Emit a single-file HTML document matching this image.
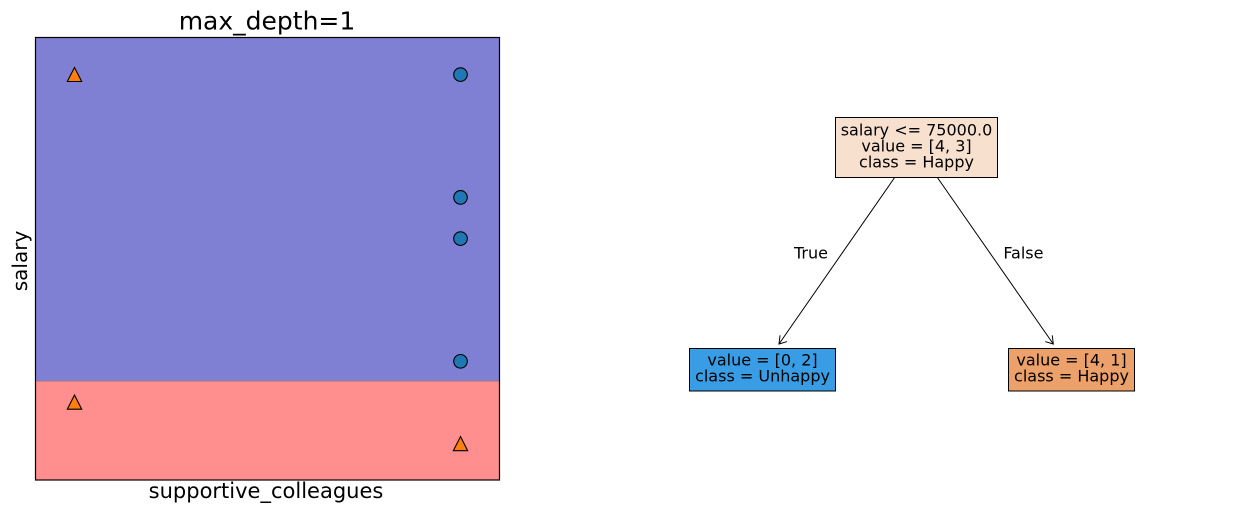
<!DOCTYPE html>
<html>
<head>
<meta charset="utf-8">
<style>
  html, body { margin: 0; padding: 0; background: #ffffff; }
  svg { display: block; }
  text { font-family: "DejaVu Sans", "Liberation Sans", sans-serif; fill: #000; }
</style>
</head>
<body>
<svg width="1234" height="516" viewBox="0 0 1234 516" xmlns="http://www.w3.org/2000/svg">
  <rect x="0" y="0" width="1234" height="516" fill="#ffffff"/>

  <!-- Left plot: decision regions -->
  <rect x="35.5" y="37.5" width="464" height="344" fill="#7f7fd4"/>
  <rect x="35.5" y="381.3" width="464" height="98.7" fill="#ff8f8f"/>
  <line x1="35.5" y1="381.3" x2="499.5" y2="381.3" stroke="#c87878" stroke-width="0.8"/>
  <rect x="35.5" y="37.5" width="464" height="442.5" fill="none" stroke="#000" stroke-width="1.2"/>

  <!-- Title and axis labels -->
  <text x="267" y="29.5" font-size="25" text-anchor="middle">max_depth=1</text>
  <text x="266" y="498" font-size="21" text-anchor="middle">supportive_colleagues</text>
  <text transform="translate(27,261) rotate(-90)" font-size="20" text-anchor="middle">salary</text>

  <!-- Markers: triangles -->
  <g fill="#ff7f0e" stroke="#000" stroke-width="1.1" stroke-linejoin="miter">
    <polygon points="74.5,67.5 67.3,81.5 81.7,81.5"/>
    <polygon points="74.5,395 67.3,409.2 81.7,409.2"/>
    <polygon points="460.5,436.6 453.3,450.7 467.7,450.7"/>
  </g>
  <!-- Markers: circles -->
  <g fill="#1f77b4" stroke="#000" stroke-width="1.1">
    <circle cx="460.5" cy="74.6" r="6.8"/>
    <circle cx="460.5" cy="197.4" r="6.8"/>
    <circle cx="460.5" cy="238.6" r="6.8"/>
    <circle cx="460.5" cy="361.3" r="6.8"/>
  </g>

  <!-- Tree: edges -->
  <g stroke="#000" stroke-width="1" fill="none" stroke-linecap="round">
    <line x1="894.3" y1="178" x2="779" y2="344"/>
    <polyline points="786.7,341.7 779,344 780,335.7"/>
    <line x1="937.7" y1="178" x2="1053.3" y2="344"/>
    <polyline points="1045.6,341.7 1053.3,344 1052.3,335.7"/>
  </g>
  <text x="811" y="258.3" font-size="16" text-anchor="middle">True</text>
  <text x="1023.4" y="258.3" font-size="16" text-anchor="middle">False</text>

  <!-- Tree: root node -->
  <rect x="835.5" y="117.5" width="162" height="60" fill="#f8e0ce" stroke="#000" stroke-width="1"/>
  <text x="916.5" y="135.5" font-size="16" text-anchor="middle">salary &lt;= 75000.0</text>
  <text x="916.5" y="151.5" font-size="16" text-anchor="middle">value = [4, 3]</text>
  <text x="916.5" y="167.5" font-size="16" text-anchor="middle">class = Happy</text>

  <!-- Tree: left leaf -->
  <rect x="689.5" y="348.5" width="146" height="42.5" fill="#399de5" stroke="#000" stroke-width="1"/>
  <text x="762.5" y="365.3" font-size="16" text-anchor="middle">value = [0, 2]</text>
  <text x="762.5" y="381.5" font-size="16" text-anchor="middle">class = Unhappy</text>

  <!-- Tree: right leaf -->
  <rect x="1008.5" y="348.5" width="126" height="42.5" fill="#eca06a" stroke="#000" stroke-width="1"/>
  <text x="1071.5" y="365.3" font-size="16" text-anchor="middle">value = [4, 1]</text>
  <text x="1071.5" y="381.5" font-size="16" text-anchor="middle">class = Happy</text>
</svg>
</body>
</html>
